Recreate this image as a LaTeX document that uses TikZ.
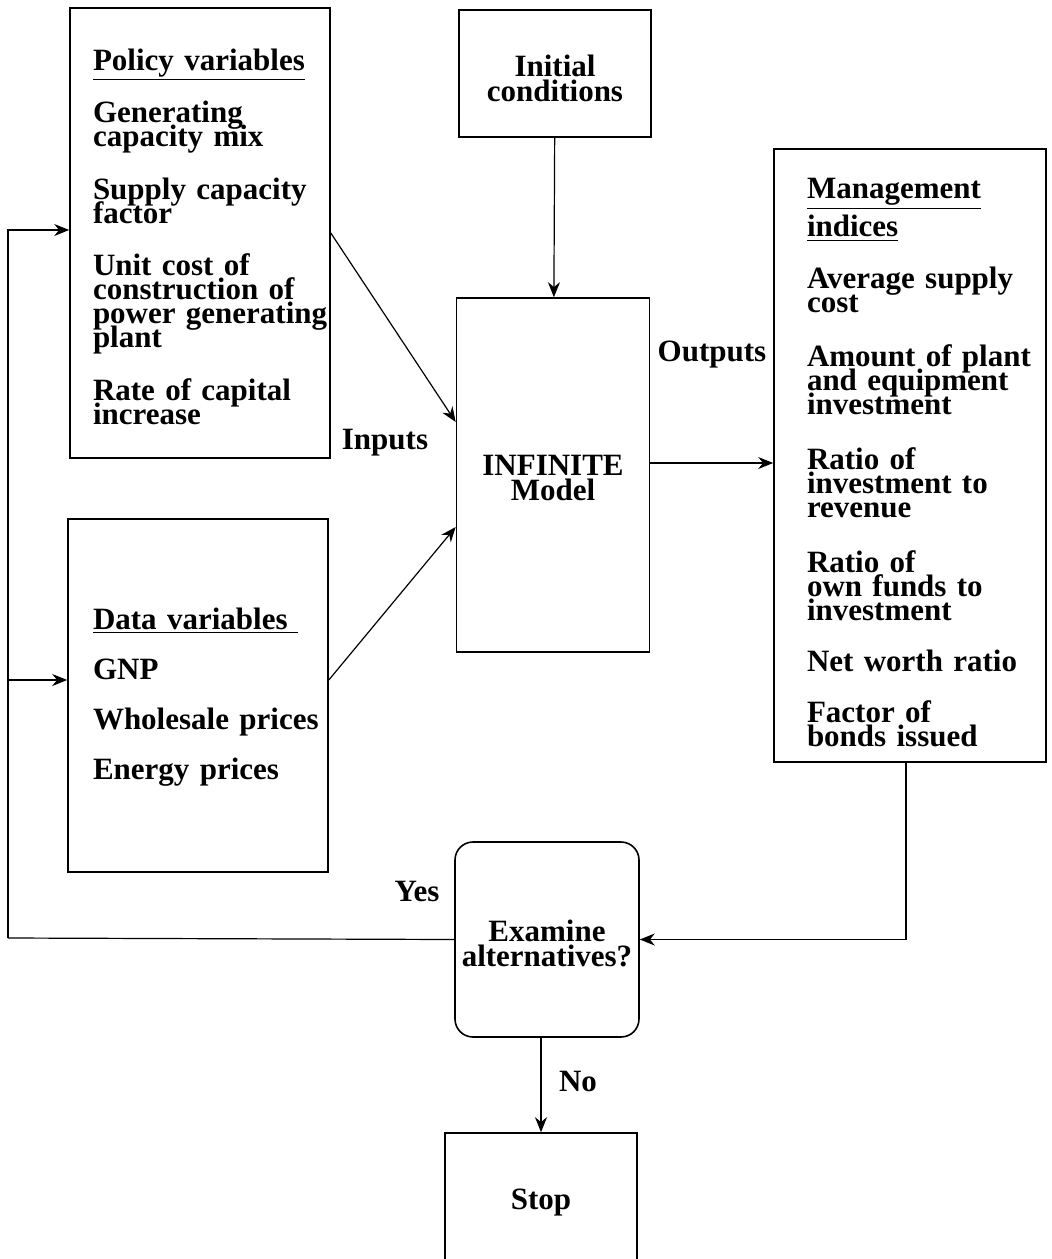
\documentclass[tikz,border=0pt]{standalone}
\usepackage{fontspec}
\setmainfont{Liberation Serif}
\usetikzlibrary{arrows.meta}
\newcommand{\flowfont}{\fontsize{15.5}{12}\selectfont\bfseries\lineskiplimit=-30pt\hyphenpenalty=10000\exhyphenpenalty=10000\relax}
\tikzset{
  txt/.style={font=\flowfont},
  varbox/.style={draw, line width=0.8pt, txt, align=left, inner ysep=0pt},
  blk/.style={draw, line width=0.8pt, txt, align=center},
  lbl/.style={txt, inner sep=0pt},
  lin/.style={line width=0.6pt},
  arr/.style={line width=0.6pt, -{Stealth[length=7.5pt,width=6pt]}}
}

\begin{document}
\begin{tikzpicture}[x=0.5pt, y=-0.5pt]
    \useasboundingbox (0,0) rectangle (1051,1259);

    % input boxes
    \node[varbox, text width=107pt, inner xsep=11.5pt, minimum height=225pt] (pol) at (200,233)
      {\rule{0pt}{14.5pt}\underline{Policy variables}\\[14.25pt]
       Generating\\ capacity~mix\\[14.25pt]
       Supply~capacity\\ factor\\[14.25pt]
       Unit~cost~of\\ construction~of\\ power~generating\\ plant\\[14.25pt]
       Rate~of~capital\\ increase};
    \node[varbox, text width=105pt, inner xsep=12.5pt, minimum height=176.5pt] (dat) at (198,695.5)
      {\rule{0pt}{12.5pt}\underline{Data variables\hspace{5pt}}\\[13pt]
       GNP\\[13pt]
       Wholesale~prices\\[13pt]
       Energy~prices};

    % model
    \node[blk, minimum width=96pt, minimum height=63.5pt] (init) at (555,73.5) {\rule{0pt}{15.5pt}Initial\\[0.5pt] conditions};
    \node[blk, minimum width=96.5pt, minimum height=177pt] (inf) at (553,475) {\rule{0pt}{13pt}INFINITE\\[0.5pt] Model};

    % outputs
    \node[varbox, text width=103pt, inner xsep=16.5pt, minimum height=306.5pt] (mgmt) at (910,455.5)
      {\rule{0pt}{17.5pt}\underline{Management}\\[7pt]
       \underline{indices}\\[14pt]
       Average~supply\\ cost\\[15pt]
       Amount~of~plant\\ and~equipment\\ investment\\[15.5pt]
       Ratio~of\\ investment~to\\ revenue\\[15.5pt]
       Ratio~of\\ own~funds~to\\ investment\\[13.5pt]
       Net~worth~ratio\\[13.5pt]
       Factor~of\\ bonds~issued};

    % decision
    \node[blk, rounded corners=9pt, minimum width=92pt, minimum height=97.5pt] (exam) at (547,939.5) {\rule{0pt}{14.5pt}Examine\\[0.5pt] alternatives?};
    \node[blk, minimum width=96pt, minimum height=66pt] (stop) at (541,1199) {\rule{0pt}{13.5pt}Stop};

    % labels
    \node[lbl] (inputs) at (385,443) {Inputs};
    \node[lbl] (outputs) at (712,355) {Outputs};
    \node[lbl] (yes) at (417,891) {Yes};
    \node[lbl] (no) at (578,1081) {No};

    % connectors
    \coordinate (fb) at (8,938);
    \coordinate (din) at ([yshift=7.75pt]dat.west);
    \coordinate (dout) at ([yshift=7.75pt]dat.east);
    \coordinate (iout) at ([yshift=6pt]inf.east);

    \draw[arr] (pol.east) -- ([yshift=26.5pt]inf.west);
    \draw[arr] (dout) -- ([yshift=-26pt]inf.west);
    \draw[arr] (init) -- (inf);
    \draw[arr] (iout) -- (iout -| mgmt.west);
    \draw[arr] ([xshift=-2pt]mgmt.south) |- (exam.east);
    \draw[arr] (exam.south -| stop.north) -- (stop.north);
    \draw[lin] (exam.west) -- (fb);
    \draw[arr] (fb) |- ([yshift=1.5pt]pol.west);
    \draw[arr] (fb |- din) -- (din);
\end{tikzpicture}
\end{document}
